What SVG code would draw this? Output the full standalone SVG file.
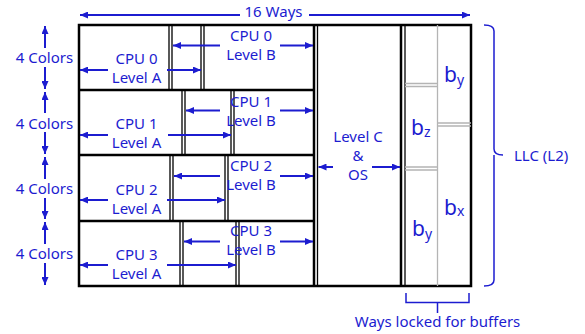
<svg xmlns="http://www.w3.org/2000/svg" width="585" height="334" viewBox="0 0 585 334">
<defs>
<marker id="ah" markerUnits="userSpaceOnUse" markerWidth="8" markerHeight="7" refX="8" refY="3.5" orient="auto">
<path d="M0,0 L8,3.5 L0,7 z" fill="#1c1cd0"/>
</marker>
<style>
.t{font-family:"Noto Sans","DejaVu Sans",sans-serif;font-size:15px;fill:#1c1cd0;text-anchor:middle}
.b{font-family:"Noto Sans","DejaVu Sans",sans-serif;font-size:21px;fill:#1c1cd0}
.s{font-size:14px}
.a{stroke:#1c1cd0;stroke-width:2;fill:none;marker-end:url(#ah)}
.bl{stroke:#000;stroke-width:1.3;fill:none}
.th{stroke:#000;stroke-width:2.5;fill:none}
.gr{stroke:#b4b4b4;stroke-width:1.3;fill:none}
.br{stroke:#1c1cd0;stroke-width:1.5;fill:none}
</style>
</defs>
<rect width="585" height="334" fill="#fff"/>

<g id="cache-frame">
<rect x="79" y="25" width="392" height="261" class="th"/>
<path d="M79,90 H314 M79,155 H314 M79,221 H314" class="th" stroke-width="2"/>
<path d="M314,25 V286" class="th" stroke-width="2"/>
<path d="M317.5,25 V286" class="bl"/>
<path d="M401,25 V286" class="th" stroke-width="2"/>
<path d="M405,25 V286" class="bl"/>
</g>

<g id="row0">
<path d="M169,25 V90 M172,25 V90 M201,25 V90 M204,25 V90" class="bl"/>
<g id="cpu0-levelA"><text class="t" x="136.5" y="63.5">CPU 0</text><text class="t" x="136.5" y="83">Level A</text></g>
<g id="cpu0-levelB"><text class="t" x="251" y="41">CPU 0</text><text class="t" x="251" y="60">Level B</text></g>
</g>
<g id="row1">
<path d="M182,90 V155 M185,90 V155 M231,90 V155 M234,90 V155" class="bl"/>
<g id="cpu1-levelA"><text class="t" x="136.5" y="129">CPU 1</text><text class="t" x="136.5" y="148">Level A</text></g>
<g id="cpu1-levelB"><text class="t" x="251" y="107">CPU 1</text><text class="t" x="251" y="125.5">Level B</text></g>
</g>
<g id="row2">
<path d="M170,155 V221 M173,155 V221 M225,155 V221 M228,155 V221" class="bl"/>
<g id="cpu2-levelA"><text class="t" x="136.5" y="195">CPU 2</text><text class="t" x="136.5" y="214">Level A</text></g>
<g id="cpu2-levelB"><text class="t" x="251" y="171">CPU 2</text><text class="t" x="251" y="189.5">Level B</text></g>
</g>
<g id="row3">
<path d="M180,221 V286 M183,221 V286 M236,221 V286 M239,221 V286" class="bl"/>
<g id="cpu3-levelA"><text class="t" x="136.5" y="260">CPU 3</text><text class="t" x="136.5" y="279">Level A</text></g>
<g id="cpu3-levelB"><text class="t" x="251" y="236">CPU 3</text><text class="t" x="251" y="255">Level B</text></g>
</g>

<g id="levelC-OS">
<text class="t" x="358" y="142">Level C</text>
<text class="t" x="358" y="161">&amp;</text>
<text class="t" x="358" y="180">OS</text>
</g>

<g id="buffers">
<path d="M437.5,25 V286" class="gr"/>
<path d="M405,83.5 H437.5 M405,86.5 H437.5 M405,167 H437.5 M405,170 H437.5 M437.5,123 H471 M437.5,126 H471" class="gr"/>
<g id="buf-by-top"><text class="b" x="444" y="82">b<tspan class="s" dy="3">y</tspan></text></g>
<g id="buf-bz"><text class="b" x="411" y="135">b<tspan class="s" dy="2">z</tspan></text></g>
<g id="buf-by-bottom"><text class="b" x="412" y="236">b<tspan class="s" dy="3">y</tspan></text></g>
<g id="buf-bx"><text class="b" x="444" y="215">b<tspan class="s" dy="1">x</tspan></text></g>
</g>

<g id="labels">
<text class="t" x="273.5" y="17">16 Ways</text>
<text class="t" x="44.5" y="63">4 Colors</text>
<text class="t" x="44.5" y="128.5">4 Colors</text>
<text class="t" x="44.5" y="194">4 Colors</text>
<text class="t" x="44.5" y="259">4 Colors</text>
<text class="t" x="514" y="161" style="text-anchor:start">LLC (L2)</text>
<text class="t" x="437.5" y="327">Ways locked for buffers</text>
</g>

<g id="connectors">
<path d="M240,15 H80" class="a"/>
<path d="M309,15 H470" class="a"/>
<path d="M45,48 V26" class="a"/><path d="M45,67 V89" class="a"/>
<path d="M45,113 V92" class="a"/><path d="M45,132 V154" class="a"/>
<path d="M45,179 V157" class="a"/><path d="M45,198 V219" class="a"/>
<path d="M45,244 V222" class="a"/><path d="M45,263 V285" class="a"/>
<path d="M108,70 H80" class="a"/><path d="M167,70 H201" class="a"/>
<path d="M108,135 H80" class="a"/><path d="M168,135 H231" class="a"/>
<path d="M108,200 H80" class="a"/><path d="M167,200 H225" class="a"/>
<path d="M108,265 H80" class="a"/><path d="M167,265 H236" class="a"/>
<path d="M220,45.5 H173" class="a"/><path d="M280,45.5 H313" class="a"/>
<path d="M220,110.5 H186" class="a"/><path d="M280,110.5 H313" class="a"/>
<path d="M220,176 H174" class="a"/><path d="M280,176 H313" class="a"/>
<path d="M220,241.5 H184" class="a"/><path d="M280,241.5 H313" class="a"/>
<path d="M333,167 H318.5" class="a"/><path d="M372,167 H400" class="a"/>
<path d="M484,25 Q494,25 494,31 V149 Q494,155 503,155 M494,155 V280 Q494,286 484,286" class="br"/>
<path d="M406,293 V302.5 H469 V293 M437.5,302.5 V313" class="br"/>
</g>
</svg>
